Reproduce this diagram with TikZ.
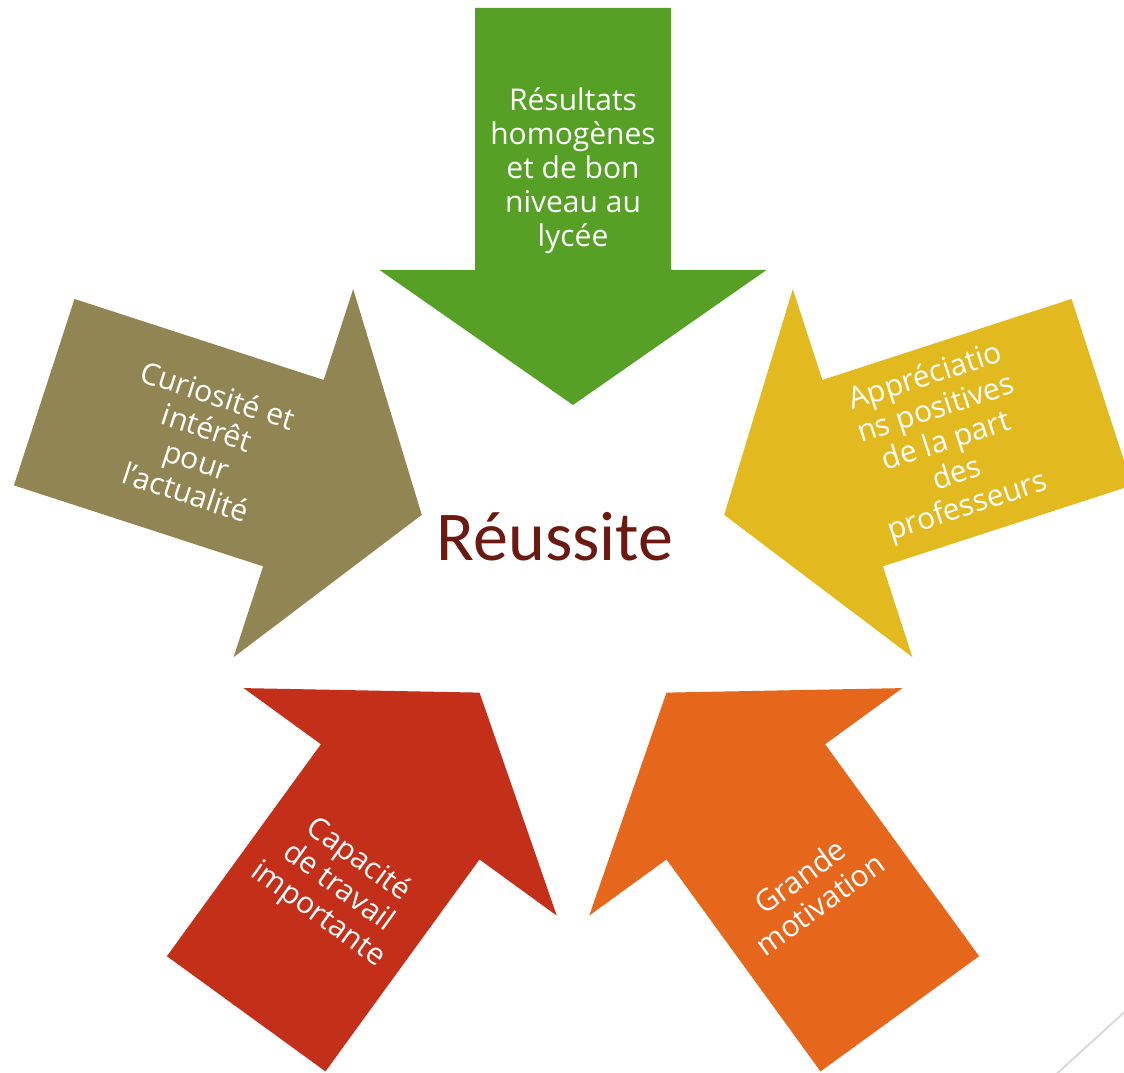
\documentclass[tikz,border=0pt]{standalone}
\usepackage{fontspec}
\setmainfont{Open Sans}
\newfontfamily\titlefont{Carlito}
\definecolor{agreen}{RGB}{86,161,37}
\definecolor{aolive}{RGB}{145,134,83}
\definecolor{ayellow}{RGB}{227,185,32}
\definecolor{ared}{RGB}{196,47,26}
\definecolor{aorange}{RGB}{230,102,27}
\definecolor{atitle}{RGB}{106,26,16}
\definecolor{aline}{RGB}{217,217,217}
\tikzset{
  fivearrow/.pic={
    \fill[pic actions] (-98,556) -- (98,556) -- (98,294) -- (193.5,294) -- (0,159) -- (-193.5,294) -- (-98,294) -- cycle;
  },
  arrowtext/.style={text=white, align=center, font=\fontsize{30}{34}\selectfont, inner sep=0pt},
}
\begin{document}
\begin{tikzpicture}[x=1pt,y=1pt]
\useasboundingbox (0,0) rectangle (1124,1073);
\clip (0,0) rectangle (1124,1073);
\fill[white] (0,0) rectangle (1124,1073);
\coordinate (C) at (573,509);
% arrows
\pic[fill=agreen] at (C) {fivearrow};
\pic[fill=aolive, rotate=72] at (C) {fivearrow};
\pic[fill=ared, rotate=144] at (C) {fivearrow};
\pic[fill=aorange, rotate=216] at (C) {fivearrow};
\pic[fill=ayellow, rotate=288] at (C) {fivearrow};
% texts
\node[arrowtext] (tgreen) at ([shift={(90:393)}]C) {Résultats\\homogènes\\et de bon\\niveau au\\lycée};
\node[arrowtext, rotate=-18] (tolive) at ([shift={(162:390)}]C) {Curiosité et\\intérêt\\pour\\l’actualité};
\node[arrowtext, rotate=18] (tyellow) at ([shift={(18:393)}]C) {Appréciatio\\ns positives\\de la part\\des\\professeurs};
\node[arrowtext, rotate=-36] (tred) at ([shift={(234:400)}]C) {Capacité\\de travail\\importante};
\node[arrowtext, rotate=36] (torange) at ([shift={(306:403)}]C) {Grande\\motivation};
% centre
\node[text=atitle, font=\titlefont\fontsize{70}{80}\selectfont, inner sep=0pt] (title) at (555,536) {Réussite};
% decoration line
\coordinate (l1) at (1052,-5);
\coordinate (l2) at (1140,75);
\draw[aline, line width=2] (l1) -- (l2);
\end{tikzpicture}
\end{document}
